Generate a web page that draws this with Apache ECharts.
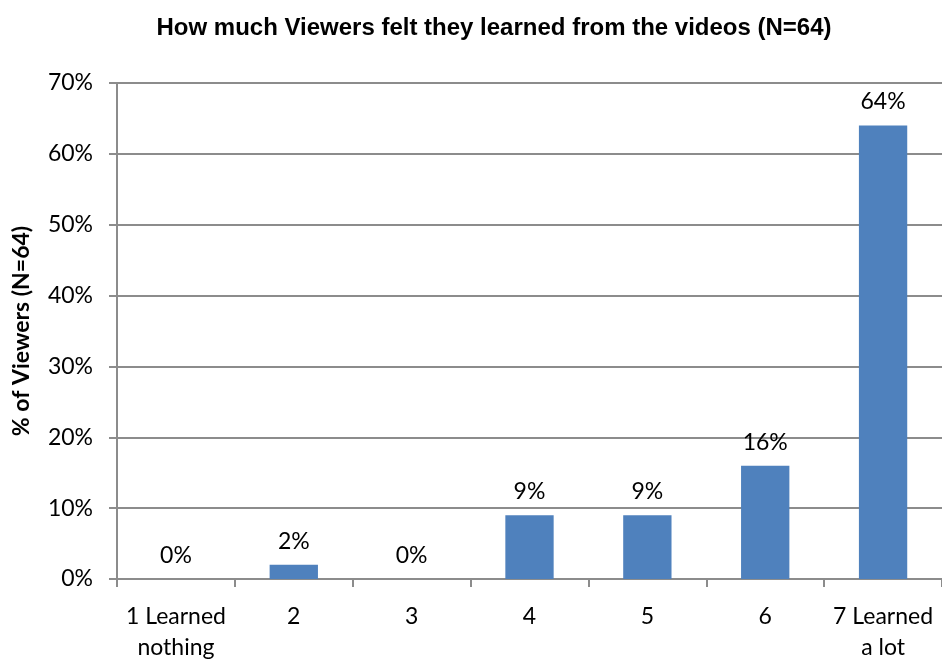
<!DOCTYPE html>
<html>
<head>
<meta charset="utf-8">
<script src="https://cdn.jsdelivr.net/npm/echarts@6/dist/echarts.min.js"></script>
<style>
  html, body { margin: 0; padding: 0; background: #ffffff; }
  #chart { width: 942px; height: 662px; }
</style>
</head>
<body>
<div id="chart"></div>
<script>
// Survey responses: share of viewers per rating on a 1–7 scale
const categories = ['1 Learned\nnothing', '2', '3', '4', '5', '6', '7 Learned\na lot'];
const percentValues = [0, 2, 0, 9, 9, 16, 64];
const yTicks = { min: 0, max: 70, interval: 10 };

const chart = echarts.init(document.getElementById('chart'));
const baseFont = 'Lato, "Open Sans", sans-serif';
const axisGray = '#8c8c8c';

chart.setOption({
  animation: false,
  title: {
    text: 'How much Viewers felt they learned from the videos (N=64)',
    left: 489,
    textAlign: 'center',
    top: 11,
    textStyle: {
      fontFamily: '"Liberation Sans Narrow", "Liberation Sans", sans-serif',
      fontWeight: 'bold',
      fontSize: 24,
      color: '#000000'
    }
  },
  grid: { left: 117, right: 0, top: 83, bottom: 83, containLabel: false, outerBoundsMode: 'none' },
  xAxis: {
    type: 'category',
    data: categories,
    axisLine: { lineStyle: { color: axisGray, width: 2 } },
    axisTick: { show: true, length: 8, alignWithLabel: false, lineStyle: { color: axisGray, width: 2 } },
    axisLabel: {
      interval: 0,
      margin: 22,
      fontFamily: baseFont,
      fontSize: 23,
      lineHeight: 31,
      color: '#000000'
    }
  },
  yAxis: {
    type: 'value',
    min: yTicks.min,
    max: yTicks.max,
    interval: yTicks.interval,
    name: '% of Viewers (N=64)',
    nameLocation: 'middle',
    nameGap: 84,
    nameTextStyle: {
      fontFamily: baseFont,
      fontWeight: 'bold',
      fontSize: 23,
      color: '#000000'
    },
    axisLine: { show: true, lineStyle: { color: axisGray, width: 2 } },
    axisTick: { show: true, length: 8, lineStyle: { color: axisGray, width: 2 } },
    splitLine: { lineStyle: { color: axisGray, width: 2 } },
    axisLabel: {
      margin: 24,
      formatter: '{value}%',
      fontFamily: baseFont,
      fontSize: 23,
      color: '#000000'
    }
  },
  series: [{
    type: 'bar',
    data: percentValues,
    barWidth: '41%',
    itemStyle: { color: '#4f81bd' },
    label: {
      show: true,
      position: 'top',
      distance: 12,
      formatter: '{c}%',
      fontFamily: baseFont,
      fontSize: 23,
      color: '#000000'
    }
  }]
});
</script>
</body>
</html>
